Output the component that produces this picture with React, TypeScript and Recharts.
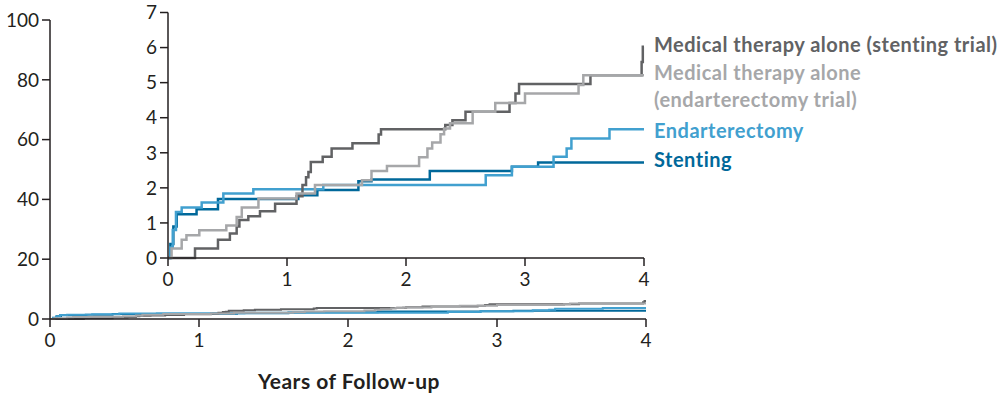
import React from "react";
import { LineChart, Line, XAxis, YAxis } from "recharts";

// Years of follow-up and cumulative event rate (%) for each group
const medStentT = [0, 0.227, 0.42, 0.52, 0.577, 0.6, 0.675, 0.773, 0.9, 1.08, 1.13, 1.16, 1.18, 1.2, 1.3, 1.375, 1.55, 1.77, 1.79, 2.33, 2.39, 2.5, 2.87, 2.92, 2.95, 3.55, 3.98, 3.99, 4.0];
const medStentV = [0, 0.27, 0.52, 0.7, 0.9, 1.08, 1.19, 1.33, 1.55, 1.76, 2.08, 2.3, 2.45, 2.74, 2.89, 3.12, 3.27, 3.52, 3.67, 3.79, 3.93, 4.17, 4.42, 4.69, 4.96, 5.21, 5.59, 6.02, 6.02];

const medEndT = [0, 0.03, 0.115, 0.155, 0.263, 0.49, 0.577, 0.62, 0.76, 1.08, 1.235, 1.63, 1.71, 1.84, 2.11, 2.18, 2.22, 2.29, 2.32, 2.37, 2.56, 2.75, 3.0, 3.45, 3.49, 4.0];
const medEndV = [0, 0.27, 0.52, 0.65, 0.79, 0.93, 1.17, 1.44, 1.7, 1.84, 2.08, 2.22, 2.48, 2.62, 2.87, 3.12, 3.29, 3.53, 3.69, 3.84, 4.17, 4.42, 4.69, 4.93, 5.21, 5.21];

const endT = [0, 0.02, 0.04, 0.067, 0.115, 0.283, 0.465, 0.717, 1.305, 2.67, 2.89, 3.24, 3.35, 3.39, 3.71, 4.0];
const endV = [0, 0.3, 0.8, 1.31, 1.44, 1.58, 1.84, 1.96, 2.08, 2.36, 2.6, 2.89, 3.12, 3.41, 3.67, 3.67];

const stentT = [0, 0.02, 0.045, 0.073, 0.24, 0.42, 1.095, 1.255, 1.6, 1.71, 2.2, 2.89, 3.11, 4.0];
const stentV = [0, 0.4, 0.9, 1.25, 1.39, 1.68, 1.79, 1.94, 2.19, 2.24, 2.48, 2.6, 2.72, 2.72];

const xTicks = [0, 1, 2, 3, 4];
const mainYTicks = [0, 20, 40, 60, 80, 100];
const insetYTicks = [0, 1, 2, 3, 4, 5, 6, 7];

const labels = [
  { text: "Medical therapy alone (stenting trial)", color: "#616264", y: 51.5 },
  { text: "Medical therapy alone", color: "#a6a7a9", y: 80 },
  { text: "(endarterectomy trial)", color: "#a6a7a9", y: 107 },
  { text: "Endarterectomy", color: "#41a0cf", y: 138 },
  { text: "Stenting", color: "#00689a", y: 166.5 },
];

const build = (t: number[], v: number[]) => t.map((x, i) => ({ t: x, v: v[i] }));

const medStent = build(medStentT, medStentV);
const medEnd = build(medEndT, medEndV);
const endo = build(endT, endV);
const stent = build(stentT, stentV);

const COL = {
  medStent: "#616264",
  medEnd: "#a6a7a9",
  endo: "#41a0cf",
  stent: "#00689a",
};

const FONT = "Lato, 'Open Sans', sans-serif";
const AX = "#231f20";
const tickStyle = { fill: AX, fontSize: 19, fontFamily: FONT };

function series(width: number) {
  return [
    <Line key="s" data={stent} dataKey="v" type="stepAfter" stroke={COL.stent} strokeWidth={width} dot={false} isAnimationActive={false} />,
    <Line key="e" data={endo} dataKey="v" type="stepAfter" stroke={COL.endo} strokeWidth={width} dot={false} isAnimationActive={false} />,
    <Line key="ms" data={medStent} dataKey="v" type="stepAfter" stroke={COL.medStent} strokeWidth={width} dot={false} isAnimationActive={false} />,
    <Line key="me" data={medEnd} dataKey="v" type="stepAfter" stroke={COL.medEnd} strokeWidth={width} dot={false} isAnimationActive={false} />,
  ];
}

export default function App() {
  return (
    <div style={{ position: "absolute", left: 0, top: 0, width: 1000, height: 399, background: "#fff" }}>
      <div style={{ position: "absolute", left: 0, top: 0 }}>
        <LineChart width={1000} height={399} margin={{ top: 20, right: 354, bottom: 40, left: 0 }}>
          <XAxis
            dataKey="t"
            type="number"
            domain={[0, 4]}
            ticks={xTicks}
            height={40}
            tickSize={8}
            tickMargin={7}
            tick={tickStyle}
            axisLine={{ stroke: AX, strokeWidth: 1.5 }}
            tickLine={{ stroke: AX, strokeWidth: 1.5 }}
          />
          <YAxis
            type="number"
            domain={[0, 100]}
            ticks={mainYTicks}
            width={50}
            tickSize={8}
            tickMargin={3}
            tick={tickStyle}
            axisLine={{ stroke: AX, strokeWidth: 1.5 }}
            tickLine={{ stroke: AX, strokeWidth: 1.5 }}
          />
          {series(2)}
        </LineChart>
      </div>
      <div style={{ position: "absolute", left: 0, top: 0 }}>
        <LineChart width={700} height={300} margin={{ top: 12.5, right: 56, bottom: 0, left: 0 }}>
          <XAxis
            dataKey="t"
            type="number"
            domain={[0, 4]}
            ticks={xTicks}
            height={42}
            tickSize={8}
            tickMargin={7}
            tick={tickStyle}
            axisLine={{ stroke: AX, strokeWidth: 1.5 }}
            tickLine={{ stroke: AX, strokeWidth: 1.5 }}
          />
          <YAxis
            type="number"
            domain={[0, 7]}
            ticks={insetYTicks}
            width={168}
            tickSize={8}
            tickMargin={3}
            tick={tickStyle}
            axisLine={{ stroke: AX, strokeWidth: 1.5 }}
            tickLine={{ stroke: AX, strokeWidth: 1.5 }}
          />
          {series(2.5)}
        </LineChart>
      </div>
      <svg width={1000} height={399} style={{ position: "absolute", left: 0, top: 0, pointerEvents: "none" }}>
        {labels.map((l) => (
          <text key={l.text} x={654} y={l.y} fill={l.color} fontFamily={FONT} fontSize={20} fontWeight={700} letterSpacing={0.5}>
            {l.text}
          </text>
        ))}
        <text x={349} y={389} textAnchor="middle" fill={AX} fontFamily={FONT} fontSize={21} fontWeight={700} letterSpacing={0.5}>
          Years of Follow-up
        </text>
      </svg>
    </div>
  );
}
